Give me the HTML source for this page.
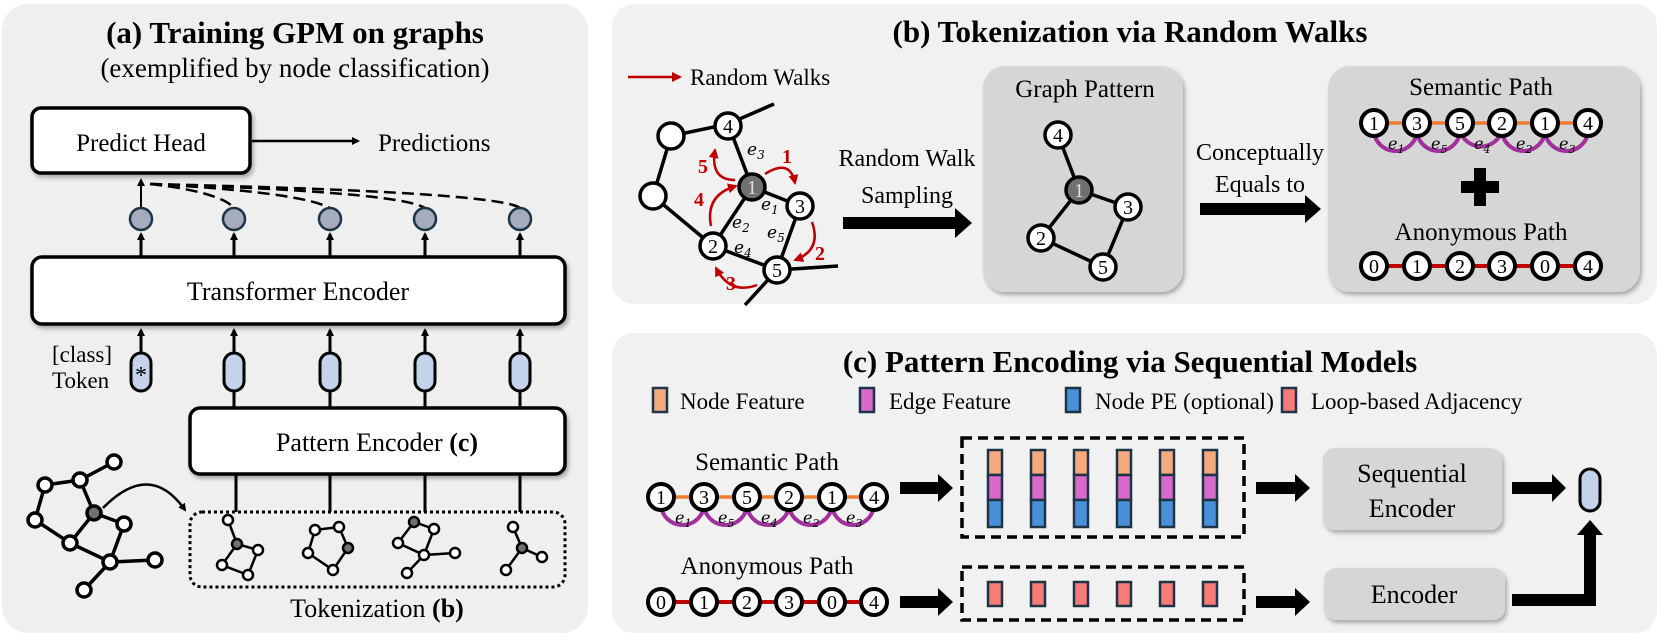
<!DOCTYPE html>
<html><head><meta charset="utf-8"><style>
html,body{margin:0;padding:0;background:#fff;}
svg{display:block;font-family:"Liberation Serif","DejaVu Serif",serif;}
svg text{font-family:"Liberation Serif","DejaVu Serif",serif;fill:#000;}
svg text.ee, svg .ee text{font-family:"DejaVu Serif","Liberation Serif",serif;font-style:italic;}
</style></head><body>
<svg width="1661" height="642" viewBox="0 0 1661 642" xmlns="http://www.w3.org/2000/svg" font-family="Liberation Serif, serif">
<defs>
<marker id="ah" markerWidth="8" markerHeight="8" refX="6" refY="4" orient="auto" markerUnits="userSpaceOnUse"><path d="M0,0 L8,4 L0,8 z" fill="#000"/></marker>
<marker id="rh" markerWidth="10" markerHeight="10" refX="8" refY="5" orient="auto" markerUnits="userSpaceOnUse"><path d="M0,0 L10,5 L0,10 z" fill="#c00000"/></marker>
<filter id="sh" x="-10%" y="-10%" width="125%" height="130%"><feDropShadow dx="2" dy="3" stdDeviation="2" flood-color="#000" flood-opacity="0.3"/></filter>
</defs>

<!-- panels -->
<rect x="2" y="4" width="586" height="629" rx="26" fill="#efefef"/>
<rect x="612" y="4" width="1045" height="300" rx="22" fill="#f1f1f1"/>
<rect x="612" y="333" width="1045" height="300" rx="22" fill="#f1f1f1"/>

<!-- ===== (a) ===== -->
<text x="295" y="43" font-size="31" font-weight="bold" text-anchor="middle">(a) Training GPM on graphs</text>
<text x="295" y="77" font-size="27" text-anchor="middle">(exemplified by node classification)</text>

<rect x="32" y="108" width="218" height="65" rx="9" fill="#fff" stroke="#000" stroke-width="3.5" filter="url(#sh)"/>
<text x="141" y="151" font-size="25" text-anchor="middle">Predict Head</text>
<line x1="252" y1="141" x2="358" y2="141" stroke="#000" stroke-width="2.5" marker-end="url(#ah)"/>
<text x="378" y="151" font-size="25">Predictions</text>

<g fill="none" stroke="#000" stroke-width="2.5" stroke-dasharray="12,6">
<path d="M150,184 Q220,192 234,208"/>
<path d="M150,184 Q300,192 330,208"/>
<path d="M150,184 Q400,192 425,208"/>
<path d="M150,184 Q500,192 520,208"/>
</g>
<line x1="141" y1="207" x2="141" y2="180" stroke="#000" stroke-width="2" marker-end="url(#ah)"/>

<rect x="32" y="257" width="533" height="67" rx="10" fill="#fff" stroke="#000" stroke-width="3.5" filter="url(#sh)"/>
<text x="298" y="300" font-size="26" text-anchor="middle">Transformer Encoder</text>

<g stroke="#000" stroke-width="3">
<line x1="141" y1="256" x2="141" y2="234" marker-end="url(#ah)"/>
<line x1="234" y1="256" x2="234" y2="234" marker-end="url(#ah)"/>
<line x1="330" y1="256" x2="330" y2="234" marker-end="url(#ah)"/>
<line x1="425" y1="256" x2="425" y2="234" marker-end="url(#ah)"/>
<line x1="520" y1="256" x2="520" y2="234" marker-end="url(#ah)"/>
<line x1="141" y1="353" x2="141" y2="330" marker-end="url(#ah)"/>
<line x1="234" y1="353" x2="234" y2="330" marker-end="url(#ah)"/>
<line x1="330" y1="353" x2="330" y2="330" marker-end="url(#ah)"/>
<line x1="425" y1="353" x2="425" y2="330" marker-end="url(#ah)"/>
<line x1="520" y1="353" x2="520" y2="330" marker-end="url(#ah)"/>
<line x1="234" y1="391" x2="234" y2="408"/>
<line x1="330" y1="391" x2="330" y2="408"/>
<line x1="425" y1="391" x2="425" y2="408"/>
<line x1="520" y1="391" x2="520" y2="408"/>
</g>
<g fill="#a4acbd" stroke="#1c3445" stroke-width="2.5">
<circle cx="141" cy="219" r="11"/><circle cx="234" cy="219" r="11"/><circle cx="330" cy="219" r="11"/><circle cx="425" cy="219" r="11"/><circle cx="520" cy="219" r="11"/>
</g>
<g fill="#c4d3e9" stroke="#000" stroke-width="3">
<rect x="131" y="353" width="20" height="38" rx="10"/>
<rect x="224" y="353" width="20" height="38" rx="10"/>
<rect x="320" y="353" width="20" height="38" rx="10"/>
<rect x="415" y="353" width="20" height="38" rx="10"/>
<rect x="510" y="353" width="20" height="38" rx="10"/>
</g>
<text x="141" y="383" font-size="24" text-anchor="middle">*</text>
<text x="52" y="362" font-size="23">[class]</text>
<text x="52" y="388" font-size="23">Token</text>

<rect x="190" y="408" width="375" height="66" rx="10" fill="#fff" stroke="#000" stroke-width="3.5" filter="url(#sh)"/>
<text x="377" y="451" font-size="26" text-anchor="middle">Pattern Encoder <tspan font-weight="bold">(c)</tspan></text>
<g stroke="#000" stroke-width="3">
<line x1="236" y1="474" x2="236" y2="512"/><line x1="330" y1="474" x2="330" y2="512"/><line x1="425" y1="474" x2="425" y2="512"/><line x1="520" y1="474" x2="520" y2="512"/>
</g>
<rect x="190" y="512" width="375" height="75" rx="12" fill="none" stroke="#000" stroke-width="3" stroke-dasharray="3,3"/>
<text x="377" y="617" font-size="26" text-anchor="middle">Tokenization <tspan font-weight="bold">(b)</tspan></text>

<g stroke="#000" stroke-width="3.5" fill="none">
<path d="M45,485 L80,480 L114,462 M45,485 L35,520 L70,543 L94,513 L80,480 M94,513 L124,524 L110,562 L70,543 M110,562 L155,560 M110,562 L84,590"/>
<path d="M103,508 Q150,460 185,510" stroke-width="2.5" marker-end="url(#ah)"/>
</g>
<g fill="#fff" stroke="#000" stroke-width="3.5">
<circle cx="45" cy="485" r="7"/><circle cx="80" cy="480" r="7"/><circle cx="114" cy="462" r="7"/><circle cx="35" cy="520" r="7"/><circle cx="124" cy="524" r="7"/><circle cx="70" cy="543" r="7"/><circle cx="110" cy="562" r="7"/><circle cx="155" cy="560" r="7"/><circle cx="84" cy="590" r="7"/>
<circle cx="94" cy="513" r="7" fill="#707070"/>
</g>
<g stroke="#000" stroke-width="2.5" fill="none">
<path d="M228,520 L237,544 L258,550 L248,575 L222,565 L237,544"/>
<path d="M315,530 L339,527 L348,548 L333,570 L308,553 Z"/>
<path d="M414,522 L434,529 L424,555 L398,543 Z M424,555 L455,553 M424,555 L407,573"/>
<path d="M513,527 L522,548 L542,557 M522,548 L506,570"/>
</g>
<g fill="#fff" stroke="#000" stroke-width="2.5">
<circle cx="228" cy="520" r="5"/><circle cx="258" cy="550" r="5"/><circle cx="222" cy="565" r="5"/><circle cx="248" cy="575" r="5"/>
<circle cx="315" cy="530" r="5"/><circle cx="339" cy="527" r="5"/><circle cx="333" cy="570" r="5"/><circle cx="308" cy="553" r="5"/>
<circle cx="434" cy="529" r="5"/><circle cx="398" cy="543" r="5"/><circle cx="424" cy="555" r="5"/><circle cx="455" cy="553" r="5"/><circle cx="407" cy="573" r="5"/>
<circle cx="513" cy="527" r="5"/><circle cx="542" cy="557" r="5"/><circle cx="506" cy="570" r="5"/>
<g fill="#707070"><circle cx="237" cy="544" r="5"/><circle cx="348" cy="548" r="5"/><circle cx="414" cy="522" r="5"/><circle cx="522" cy="548" r="5"/></g>
</g>

<!-- ===== (b) ===== -->
<text x="1130" y="42" font-size="31" font-weight="bold" text-anchor="middle">(b) Tokenization via Random Walks</text>
<line x1="628" y1="77" x2="680" y2="77" stroke="#c00000" stroke-width="2.5" marker-end="url(#rh)"/>
<text x="690" y="85" font-size="23">Random Walks</text>

<g stroke="#000" stroke-width="3.5" fill="none">
<path d="M671,136 L728,124 L774,104 M728,124 L752,187 L800,206 L777,270 L713,246 L752,187 M671,136 L653,196 L713,246 M777,270 L838,266 M777,270 L745,305"/>
</g>
<g fill="#fff" stroke="#000" stroke-width="3.5">
<circle cx="671" cy="136" r="13"/><circle cx="653" cy="196" r="13"/>
<circle cx="728" cy="126" r="13"/><circle cx="800" cy="206" r="13"/><circle cx="713" cy="246" r="13"/><circle cx="777" cy="270" r="13"/>
<circle cx="752" cy="187" r="13" fill="#707070"/>
</g>
<g font-size="20" text-anchor="middle">
<text x="728" y="133">4</text><text x="800" y="213">3</text><text x="713" y="253">2</text><text x="777" y="277">5</text><text x="752" y="194" style="fill:#ddd">1</text>
</g>
<g class="ee" font-size="17">
<text x="747" y="155">e<tspan font-size="12" dy="4">3</tspan></text>
<text x="761" y="210">e<tspan font-size="12" dy="4">1</tspan></text>
<text x="732" y="228">e<tspan font-size="12" dy="4">2</tspan></text>
<text x="767" y="238">e<tspan font-size="12" dy="4">5</tspan></text>
<text x="734" y="253">e<tspan font-size="12" dy="4">4</tspan></text>
</g>
<g stroke="#c00000" stroke-width="2.5" fill="none">
<path d="M765,174 Q790,158 795,183" marker-end="url(#rh)"/>
<path d="M812,222 Q822,250 795,260" marker-end="url(#rh)"/>
<path d="M757,285 Q730,295 716,268" marker-end="url(#rh)"/>
<path d="M711,226 Q705,195 736,186" marker-end="url(#rh)"/>
<path d="M735,180 Q710,180 715,150" marker-end="url(#rh)"/>
</g>
<g font-size="20" font-weight="bold">
<text x="782" y="163" style="fill:#c00000">1</text><text x="815" y="260" style="fill:#c00000">2</text><text x="726" y="290" style="fill:#c00000">3</text><text x="694" y="206" style="fill:#c00000">4</text><text x="698" y="173" style="fill:#c00000">5</text>
</g>

<text x="907" y="166" font-size="24" text-anchor="middle">Random Walk</text>
<text x="907" y="203" font-size="24" text-anchor="middle">Sampling</text>
<path d="M843,217 L955,217 L955,208 L972,223 L955,238 L955,229 L843,229 Z" fill="#000"/>

<rect x="983" y="66" width="200" height="226" rx="22" fill="#d6d6d6" filter="url(#sh)"/>
<text x="1085" y="97" font-size="25" text-anchor="middle">Graph Pattern</text>
<g stroke="#000" stroke-width="3.5" fill="none">
<path d="M1058,135 L1079,190 L1128,207 L1103,267 L1041,238 L1079,190"/>
</g>
<g fill="#fff" stroke="#000" stroke-width="3.5">
<circle cx="1058" cy="135" r="13"/><circle cx="1128" cy="207" r="13"/><circle cx="1041" cy="238" r="13"/><circle cx="1103" cy="267" r="13"/>
<circle cx="1079" cy="190" r="13" fill="#707070"/>
</g>
<g font-size="20" text-anchor="middle">
<text x="1058" y="142">4</text><text x="1128" y="214">3</text><text x="1041" y="245">2</text><text x="1103" y="274">5</text><text x="1079" y="197" style="fill:#ddd">1</text>
</g>

<text x="1260" y="160" font-size="24" text-anchor="middle">Conceptually</text>
<text x="1260" y="192" font-size="24" text-anchor="middle">Equals to</text>
<path d="M1200,203 L1305,203 L1305,195 L1321,209 L1305,223 L1305,215 L1200,215 Z" fill="#000"/>

<rect x="1328" y="66" width="312" height="226" rx="22" fill="#d6d6d6" filter="url(#sh)"/>
<text x="1481" y="95" font-size="25" text-anchor="middle">Semantic Path</text>
<line x1="1374" y1="123" x2="1588" y2="123" stroke="#ed7d31" stroke-width="3.5"/>
<g fill="none" stroke="#a0309a" stroke-width="4">
<path d="M1374,130 A21.5,21 0 0 0 1417,130 A21.5,21 0 0 0 1460,130 A21.5,21 0 0 0 1502,130 A21.5,21 0 0 0 1545,130 A21.5,21 0 0 0 1588,130"/>
</g>
<g fill="#fff" stroke="#000" stroke-width="4">
<circle cx="1374" cy="123" r="13"/><circle cx="1417" cy="123" r="13"/><circle cx="1460" cy="123" r="13"/><circle cx="1502" cy="123" r="13"/><circle cx="1545" cy="123" r="13"/><circle cx="1588" cy="123" r="13"/>
</g>
<g font-size="20" text-anchor="middle">
<text x="1374" y="130">1</text><text x="1417" y="130">3</text><text x="1460" y="130">5</text><text x="1502" y="130">2</text><text x="1545" y="130">1</text><text x="1588" y="130">4</text>
</g>
<g class="ee" font-size="16">
<text x="1388" y="149">e<tspan font-size="11" dy="4">1</tspan></text>
<text x="1431" y="149">e<tspan font-size="11" dy="4">5</tspan></text>
<text x="1474" y="149">e<tspan font-size="11" dy="4">4</tspan></text>
<text x="1516" y="149">e<tspan font-size="11" dy="4">2</tspan></text>
<text x="1559" y="149">e<tspan font-size="11" dy="4">3</tspan></text>
</g>
<path d="M1474,168 h12 v13 h13 v12 h-13 v13 h-12 v-13 h-13 v-12 h13 z" fill="#000"/>
<text x="1481" y="240" font-size="25" text-anchor="middle">Anonymous Path</text>
<line x1="1374" y1="266" x2="1588" y2="266" stroke="#c00000" stroke-width="4"/>
<g fill="#fff" stroke="#000" stroke-width="4">
<circle cx="1374" cy="266" r="13"/><circle cx="1417" cy="266" r="13"/><circle cx="1460" cy="266" r="13"/><circle cx="1502" cy="266" r="13"/><circle cx="1545" cy="266" r="13"/><circle cx="1588" cy="266" r="13"/>
</g>
<g font-size="20" text-anchor="middle">
<text x="1374" y="273">0</text><text x="1417" y="273">1</text><text x="1460" y="273">2</text><text x="1502" y="273">3</text><text x="1545" y="273">0</text><text x="1588" y="273">4</text>
</g>

<!-- ===== (c) ===== -->
<text x="1130" y="372" font-size="31" font-weight="bold" text-anchor="middle">(c) Pattern Encoding via Sequential Models</text>
<g stroke="#1c3445" stroke-width="2.5">
<rect x="653" y="388" width="14" height="24" fill="#f4a97f"/>
<rect x="860" y="388" width="14" height="24" fill="#d86acb"/>
<rect x="1066" y="388" width="14" height="24" fill="#4a90d9"/>
<rect x="1282" y="388" width="14" height="24" fill="#f77b77"/>
</g>
<g font-size="23">
<text x="680" y="409">Node Feature</text>
<text x="889" y="409">Edge Feature</text>
<text x="1095" y="409">Node PE (optional)</text>
<text x="1311" y="409">Loop-based Adjacency</text>
</g>

<text x="767" y="470" font-size="25" text-anchor="middle">Semantic Path</text>
<line x1="661" y1="497" x2="874" y2="497" stroke="#ed7d31" stroke-width="3.5"/>
<g fill="none" stroke="#a0309a" stroke-width="4">
<path d="M661,504 A21.5,21 0 0 0 704,504 A21.5,21 0 0 0 747,504 A21,21 0 0 0 789,504 A21.5,21 0 0 0 832,504 A21,21 0 0 0 874,504"/>
</g>
<g fill="#fff" stroke="#000" stroke-width="4">
<circle cx="661" cy="497" r="13"/><circle cx="704" cy="497" r="13"/><circle cx="747" cy="497" r="13"/><circle cx="789" cy="497" r="13"/><circle cx="832" cy="497" r="13"/><circle cx="874" cy="497" r="13"/>
</g>
<g font-size="20" text-anchor="middle">
<text x="661" y="504">1</text><text x="704" y="504">3</text><text x="747" y="504">5</text><text x="789" y="504">2</text><text x="832" y="504">1</text><text x="874" y="504">4</text>
</g>
<g class="ee" font-size="16">
<text x="675" y="523">e<tspan font-size="11" dy="4">1</tspan></text>
<text x="718" y="523">e<tspan font-size="11" dy="4">5</tspan></text>
<text x="761" y="523">e<tspan font-size="11" dy="4">4</tspan></text>
<text x="803" y="523">e<tspan font-size="11" dy="4">2</tspan></text>
<text x="846" y="523">e<tspan font-size="11" dy="4">3</tspan></text>
</g>
<path d="M900,482 L938,482 L938,474 L953,488 L938,502 L938,494 L900,494 Z" fill="#000"/>

<rect x="962" y="438" width="282" height="99" fill="none" stroke="#000" stroke-width="3.5" stroke-dasharray="10,6"/>
<g stroke="#1c3445" stroke-width="2.5">
<g id="bar"><rect x="988" y="450" width="14" height="25" fill="#f4a97f"/><rect x="988" y="475" width="14" height="25" fill="#d86acb"/><rect x="988" y="500" width="14" height="27" fill="#4a90d9"/></g>
<use href="#bar" x="43"/><use href="#bar" x="86"/><use href="#bar" x="129"/><use href="#bar" x="172"/><use href="#bar" x="215"/>
</g>
<path d="M1256,482 L1295,482 L1295,474 L1310,488 L1295,502 L1295,494 L1256,494 Z" fill="#000"/>
<rect x="1323" y="448" width="179" height="82" rx="12" fill="#d6d6d6" filter="url(#sh)"/>
<text x="1412" y="482" font-size="26" text-anchor="middle">Sequential</text>
<text x="1412" y="517" font-size="26" text-anchor="middle">Encoder</text>
<path d="M1512,482 L1552,482 L1552,474 L1566,488 L1552,502 L1552,494 L1512,494 Z" fill="#000"/>
<rect x="1580" y="469" width="20" height="42" rx="10" fill="#c4d3e9" stroke="#000" stroke-width="3"/>

<text x="767" y="574" font-size="25" text-anchor="middle">Anonymous Path</text>
<line x1="661" y1="602" x2="874" y2="602" stroke="#c00000" stroke-width="4"/>
<g fill="#fff" stroke="#000" stroke-width="4">
<circle cx="661" cy="602" r="13"/><circle cx="704" cy="602" r="13"/><circle cx="747" cy="602" r="13"/><circle cx="789" cy="602" r="13"/><circle cx="832" cy="602" r="13"/><circle cx="874" cy="602" r="13"/>
</g>
<g font-size="20" text-anchor="middle">
<text x="661" y="609">0</text><text x="704" y="609">1</text><text x="747" y="609">2</text><text x="789" y="609">3</text><text x="832" y="609">0</text><text x="874" y="609">4</text>
</g>
<path d="M900,596 L938,596 L938,588 L953,602 L938,616 L938,608 L900,608 Z" fill="#000"/>
<rect x="962" y="567" width="282" height="53" fill="none" stroke="#000" stroke-width="3.5" stroke-dasharray="10,6"/>
<g stroke="#1c3445" stroke-width="2.5" fill="#f77b77">
<rect x="988" y="582" width="14" height="24"/><rect x="1031" y="582" width="14" height="24"/><rect x="1074" y="582" width="14" height="24"/><rect x="1117" y="582" width="14" height="24"/><rect x="1160" y="582" width="14" height="24"/><rect x="1203" y="582" width="14" height="24"/>
</g>
<path d="M1256,596 L1295,596 L1295,588 L1310,602 L1295,616 L1295,608 L1256,608 Z" fill="#000"/>
<rect x="1324" y="568" width="181" height="52" rx="12" fill="#d6d6d6" filter="url(#sh)"/>
<text x="1414" y="603" font-size="26" text-anchor="middle">Encoder</text>
<path d="M1512,594 L1584,594 L1584,535 L1577,535 L1590,520 L1603,535 L1596,535 L1596,606 L1512,606 Z" fill="#000"/>
</svg>
</body></html>
